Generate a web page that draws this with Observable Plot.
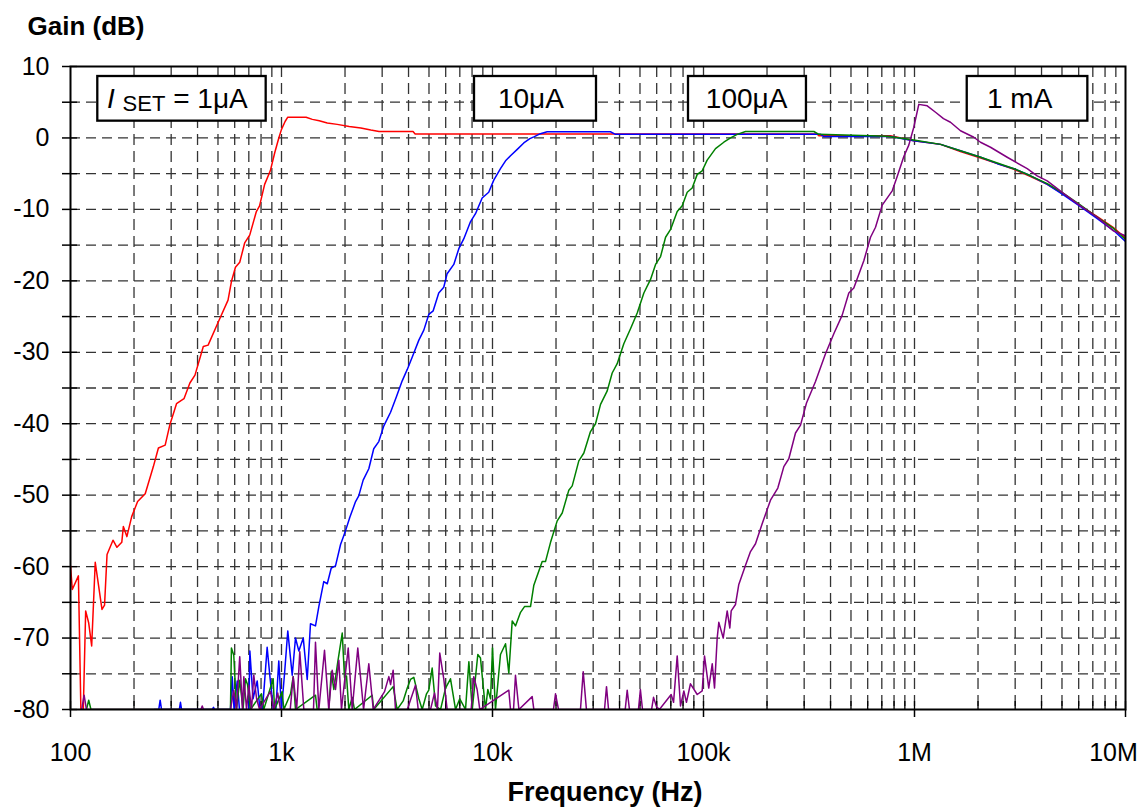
<!DOCTYPE html>
<html>
<head>
<meta charset="utf-8">
<script src="https://cdn.jsdelivr.net/npm/d3@7"></script>
<script src="https://cdn.jsdelivr.net/npm/@observablehq/plot@0.6"></script>
<style>
  html, body { margin: 0; padding: 0; background: #fff; }
</style>
</head>
<body>
<div id="chart"></div>
<script>
// ---- Data: [frequency (Hz), gain (dB)] per I_SET setting ----
const curve1uA = [[100,-59.9],[102,-63.2],[109,-61.3],[112,-80],[115,-80],[118,-66.2],[122,-67.9],[126,-71.1],[131,-59.4],[141,-66],[145,-65.4],[149,-58.3],[159,-56.3],[166,-57.3],[175,-56.6],[178,-54.4],[185,-55.8],[195,-53.0],[208,-50.9],[226,-49.8],[247,-46.0],[261,-43.4],[281,-43.0],[296,-40.1],[318,-37.2],[345,-36.5],[368,-34.3],[389,-33.2],[426,-29.2],[449,-29.0],[501,-25.8],[558,-22.7],[579,-20.1],[605,-18.1],[634,-17.4],[669,-14.7],[707,-13.6],[760,-10.3],[787,-9.5],[832,-6.5],[885,-4.6],[930,-2.0],[971,0],[1000,1.2],[1040,2.3],[1071,2.9],[1308,2.9],[1400,2.6],[1510,2.4],[1648,2.1],[1837,1.9],[2093,1.6],[2377,1.4],[2650,1.1],[2899,0.9],[4200,0.9],[4300,0.55],[345000,0.55],[352000,0.3],[769000,0.3],[992000,-0.4],[1.33e6,-0.9],[1.65e6,-1.9],[2.06e6,-2.8],[2.47e6,-3.6],[2.96e6,-4.4],[3.55e6,-5.4],[4.26e6,-6.5],[5.10e6,-7.9],[6.12e6,-9.5],[7.35e6,-11.0],[8.81e6,-12.6],[1e7,-14.0]];

const curve10uA = [[250,-80],[262,-80],[266,-78.7],[270,-80],[328,-80],[332,-79],[336,-80],[470,-80],[476,-79.7],[482,-80],[573,-80],[584,-75.4],[596,-80],[617,-76],[632,-80],[700,-80],[708,-71.8],[733,-78.5],[767,-76],[790,-80],[813,-80],[855,-71.3],[882,-75.5],[916,-80],[940,-80],[971,-73.2],[1000,-80],[1033,-75.1],[1071,-69],[1124,-75.2],[1165,-70],[1208,-71.8],[1268,-70],[1324,-75.8],[1372,-68],[1449,-68.3],[1503,-65.6],[1586,-62.1],[1648,-62.4],[1721,-60.2],[1803,-59.9],[1905,-56.9],[2010,-55],[2108,-53.1],[2244,-50.9],[2323,-50.1],[2438,-47.9],[2593,-46.3],[2736,-43.5],[2891,-42.5],[3055,-40.3],[3288,-38.4],[3508,-36.2],[3733,-34],[3945,-32.4],[4162,-30.7],[4477,-28.3],[4726,-26.9],[4989,-24.7],[5235,-24.2],[5562,-21.7],[5875,-20.9],[6095,-19],[6555,-17.7],[6925,-15.5],[7314,-14.1],[7870,-11.7],[8306,-10.6],[8933,-8.4],[9596,-7.6],[10140,-5.9],[10910,-4.3],[11530,-3.2],[12170,-2.5],[13100,-1.6],[14070,-0.7],[15030,-0.1],[15700,0.15],[16870,0.6],[18160,0.87],[36200,0.87],[38270,0.5],[358900,0.5],[370500,0.2],[769000,0.2],[992000,-0.4],[1.33e6,-0.9],[1.65e6,-1.8],[2.06e6,-2.7],[2.47e6,-3.6],[2.96e6,-4.3],[3.55e6,-5.3],[4.26e6,-6.5],[5.10e6,-8.0],[6.12e6,-9.6],[7.35e6,-11.3],[8.81e6,-13.0],[1e7,-14.5]];

const curve100uA = [[119,-80],[122,-78.7],[125,-80],[573,-80],[579,-71.4],[594,-72.4],[612,-80],[634,-75.9],[657,-80],[675,-75.7],[690,-76.5],[713,-80],[804,-77.8],[824,-80],[913,-75.7],[927,-80],[1007,-77.5],[1026,-80],[1104,-77.8],[1136,-75.4],[1165,-80],[1449,-78],[1476,-80],[1675,-80],[1721,-74.7],[1770,-77.2],[1849,-73.3],[1940,-69.3],[1989,-75.5],[2033,-75.3],[2085,-80],[2163,-78.3],[2218,-80],[2690,-78],[2736,-80],[3382,-76.8],[3532,-80],[3773,-78.8],[3945,-77],[4086,-75.8],[4238,-75.5],[4477,-78.5],[4643,-80],[4867,-77.8],[4989,-77.3],[5177,-74.2],[5370,-79.5],[5673,-80],[5990,-77],[6324,-75.7],[6555,-78.5],[6679,-80],[6998,-78.5],[7450,-80],[7727,-73.3],[8018,-80],[8519,-72.3],[8770,-72.8],[9265,-80],[9500,-77.2],[9790,-78.5],[10000,-71.4],[10330,-80],[10910,-72.3],[11530,-70.8],[11950,-74.9],[12400,-67.6],[12850,-68.3],[13580,-66.4],[14180,-65.6],[15140,-65.6],[15700,-62.6],[17200,-59.3],[17830,-59.3],[18840,-56.6],[20260,-53.6],[21400,-52.5],[23000,-49.3],[23870,-48.7],[25650,-45.2],[27100,-44.1],[29130,-41.1],[30780,-40],[32510,-37.3],[34970,-35.4],[36920,-32.9],[38990,-31.6],[41910,-28.8],[45090,-26.7],[48510,-24.5],[52160,-21.7],[56110,-19.8],[59270,-17.7],[62590,-16.6],[66110,-13.9],[69820,-12.8],[75060,-10.3],[79270,-9.5],[83710,-7.6],[88410,-7],[93370,-5.1],[98610,-4.6],[104100,-3.1],[114000,-1.5],[124800,-0.6],[134300,0],[144500,0.5],[158200,0.9],[333500,0.9],[351800,0.5],[742300,0.25],[992000,-0.3],[1.33e6,-0.9],[1.65e6,-1.8],[2.06e6,-2.7],[2.47e6,-3.5],[2.96e6,-4.3],[3.55e6,-5.3],[4.26e6,-6.4],[5.10e6,-7.8],[6.12e6,-9.4],[7.35e6,-11.1],[8.81e6,-12.7],[1e7,-14.2]];

const curve1mA = [[113,-80],[116,-78],[119,-80],[415,-80],[421,-79.5],[427,-80],[573,-80],[594,-77.3],[612,-80],[634,-72.6],[653,-80],[663,-75.4],[683,-80],[700,-76.6],[721,-80],[739,-75.2],[762,-78.5],[787,-80],[855,-78.2],[887,-77.5],[920,-80],[960,-77.7],[989,-80],[1100,-80],[1136,-75.4],[1180,-80],[1221,-71.9],[1276,-80],[1418,-80],[1449,-70.6],[1503,-80],[1599,-71.7],[1675,-80],[1738,-74.5],[1803,-77.2],[1870,-73.1],[1924,-80],[2071,-71.4],[2163,-80],[2299,-71.4],[2449,-80],[2593,-73.6],[2722,-80],[3079,-77.5],[3227,-75.4],[3288,-76.5],[3382,-74.5],[3469,-80],[3945,-80],[4315,-76.6],[4446,-80],[5085,-80],[5309,-77.7],[5485,-80],[5625,-72.1],[5875,-75.7],[6095,-80],[7925,-80],[8150,-75.4],[8455,-77.2],[8705,-80],[11950,-77.3],[12170,-80],[12580,-80],[12850,-75.2],[13340,-80],[15420,-78.2],[15700,-80],[19450,-80],[19890,-77.8],[20550,-80],[26120,-80],[26910,-74.7],[27870,-80],[33950,-80],[34700,-76.8],[35480,-80],[42560,-80],[43480,-77.3],[44570,-80],[49180,-80],[50230,-77.2],[51380,-80],[56750,-80],[57970,-78.3],[59840,-79.6],[61810,-80],[70270,-77.9],[72120,-79],[75060,-72.5],[77800,-79.5],[80700,-77.4],[83020,-79],[86740,-76.4],[93370,-77.9],[98600,-77.4],[101100,-72.5],[105900,-77],[110000,-73.6],[112800,-77],[116100,-70],[118200,-67.8],[124000,-70],[129500,-66.2],[133300,-68.6],[135300,-66.2],[141800,-65.3],[147000,-62.5],[158200,-59.8],[167000,-57.9],[176400,-56.8],[189700,-54],[207700,-50.7],[225000,-49],[240300,-46],[253700,-44.9],[272900,-41.3],[288300,-40.2],[307700,-37.1],[339500,-34.1],[378600,-30.2],[414600,-27.4],[454300,-24.8],[488300,-21.7],[515700,-21],[575100,-17.2],[618800,-13.9],[653500,-12.5],[703000,-9.4],[784200,-7.4],[827900,-5.4],[889900,-2.6],[939700,-1.0],[992300,1.5],[1.048e6,4.7],[1.149e6,4.5],[1.258e6,3.6],[1.372e6,2.7],[1.481e6,2.2],[1.652e6,1.0],[1.910e6,0.1],[2.055e6,-0.6],[2.292e6,-1.3],[2.750e6,-2.7],[3.421e6,-4.3],[3.815e6,-5.3],[4.256e6,-6.0],[5.101e6,-7.8],[6.119e6,-9.5],[7.343e6,-11.1],[8.772e6,-13.0],[1e7,-13.7]];

const seriesNames = ["1µA", "10µA", "100µA", "1mA"];
const seriesColors = ["#ff0000", "#0000ff", "#008000", "#800080"];
const seriesData = [curve1uA, curve10uA, curve100uA, curve1mA];

// ---- Axes ----
const xTickValues = [100, 1e3, 1e4, 1e5, 1e6, 1e7];
const xTickLabels = ["100", "1k", "10k", "100k", "1M", "10M"];
const yTickValues = [10, 5, 0, -5, -10, -15, -20, -25, -30, -35, -40, -45, -50, -55, -60, -65, -70, -75, -80];

// ---- Annotation boxes (data coordinates) ----
const boxLabels = ["ISET = 1μA", "10μA", "100μA", "1 mA"];
const boxFreqStart = [134.7, 8217, 84900, 1.778e6];
const boxFreqEnd = [846, 31110, 307600, 6.63e6];
const boxTextFreq = [321, 15200, 160000, 3.15e6];
const boxGainTop = 8.6, boxGainBottom = 2.35, boxGainText = 5.5;

// ---- Build ----
const W = 1143, H = 807, mL = 70, mR = 18, mT = 66, mB = 98;
const plotW = W - mL - mR, plotH = H - mT - mB;

const xGrid = d3.scaleLog().domain([100, 1e7]).ticks().filter(d => d > 100 && d < 1e7);
const xAllTicks = d3.scaleLog().domain([100, 1e7]).ticks();
const yGrid = yTickValues.filter(d => d > -80 && d < 10);

const boxes = boxLabels.map((label, i) => ({
  label, x1: boxFreqStart[i], x2: boxFreqEnd[i], tx: boxTextFreq[i],
  y1: boxGainBottom, y2: boxGainTop, ty: boxGainText
}));

const lines = seriesData.map((data, i) =>
  Plot.line(data.map(([f, g]) => ({f, g})), {
    x: "f", y: "g", stroke: seriesColors[i], strokeWidth: 1.5, clip: true
  })
);

const xLabel = d => xTickLabels[xTickValues.indexOf(d)];

const chart = Plot.plot({
  width: W, height: H,
  marginLeft: mL, marginRight: mR, marginTop: mT, marginBottom: mB,
  style: {fontFamily: "'Liberation Sans', Arial, sans-serif", fontSize: "25px", background: "#fff", color: "#000"},
  x: {type: "log", domain: [100, 1e7]},
  y: {domain: [-80, 10]},
  marks: [
    Plot.ruleX(xGrid, {stroke: "#333", strokeWidth: 1.3, strokeDasharray: "11,6"}),
    Plot.ruleY(yGrid, {stroke: "#333", strokeWidth: 1.3, strokeDasharray: "10,6"}),
    Plot.tickX(xAllTicks, {insetTop: plotH - 8, stroke: "#000", strokeWidth: 1.3}),
    Plot.tickY(yTickValues, {insetRight: plotW - 7, stroke: "#000", strokeWidth: 1.3}),
    ...lines,
    Plot.frame({stroke: "#000", strokeWidth: 2}),
    Plot.axisX({ticks: xTickValues, tickFormat: () => "", tickSize: 8, label: null, strokeWidth: 1.5}),
    Plot.axisX({ticks: xTickValues.slice(0, -1), tickFormat: xLabel, tickSize: 0, tickPadding: 34, label: null}),
    Plot.axisX({ticks: xTickValues.slice(-1), tickFormat: xLabel, tickSize: 0, tickPadding: 34, dx: -12, label: null}),
    Plot.axisY({ticks: yTickValues, tickFormat: d => (d % 10 === 0 ? String(d) : ""), tickSize: 8, tickPadding: 13, label: null, strokeWidth: 1.5}),
    Plot.rect(boxes, {x1: "x1", x2: "x2", y1: "y1", y2: "y2", fill: "#fff", stroke: "#000", strokeWidth: 2.3}),
    Plot.text(boxes, {x: "tx", y: "ty", text: "label", fontSize: 28}),
    Plot.text(["Gain (dB)"], {frameAnchor: "top-left", dx: -43, dy: -40, textAnchor: "start", lineAnchor: "middle", fontWeight: "bold", fontSize: 26}),
    Plot.text(["Frequency (Hz)"], {frameAnchor: "bottom", dx: 7, dy: 83, lineAnchor: "middle", fontWeight: "bold", fontSize: 27})
  ]
});

document.getElementById("chart").appendChild(chart);

// Rich formatting for the first annotation: italic I with subscript SET
const iset = Array.from(chart.querySelectorAll("text")).find(e => e.textContent === boxLabels[0]);
if (iset) {
  const t = d3.select(iset);
  t.text(null);
  t.append("tspan").attr("font-style", "italic").text("I");
  t.append("tspan").text(" ");
  t.append("tspan").attr("font-size", 22).attr("dy", 3).text("SET");
  t.append("tspan").attr("dy", -3).text(" = 1μA");
}
</script>
</body>
</html>
